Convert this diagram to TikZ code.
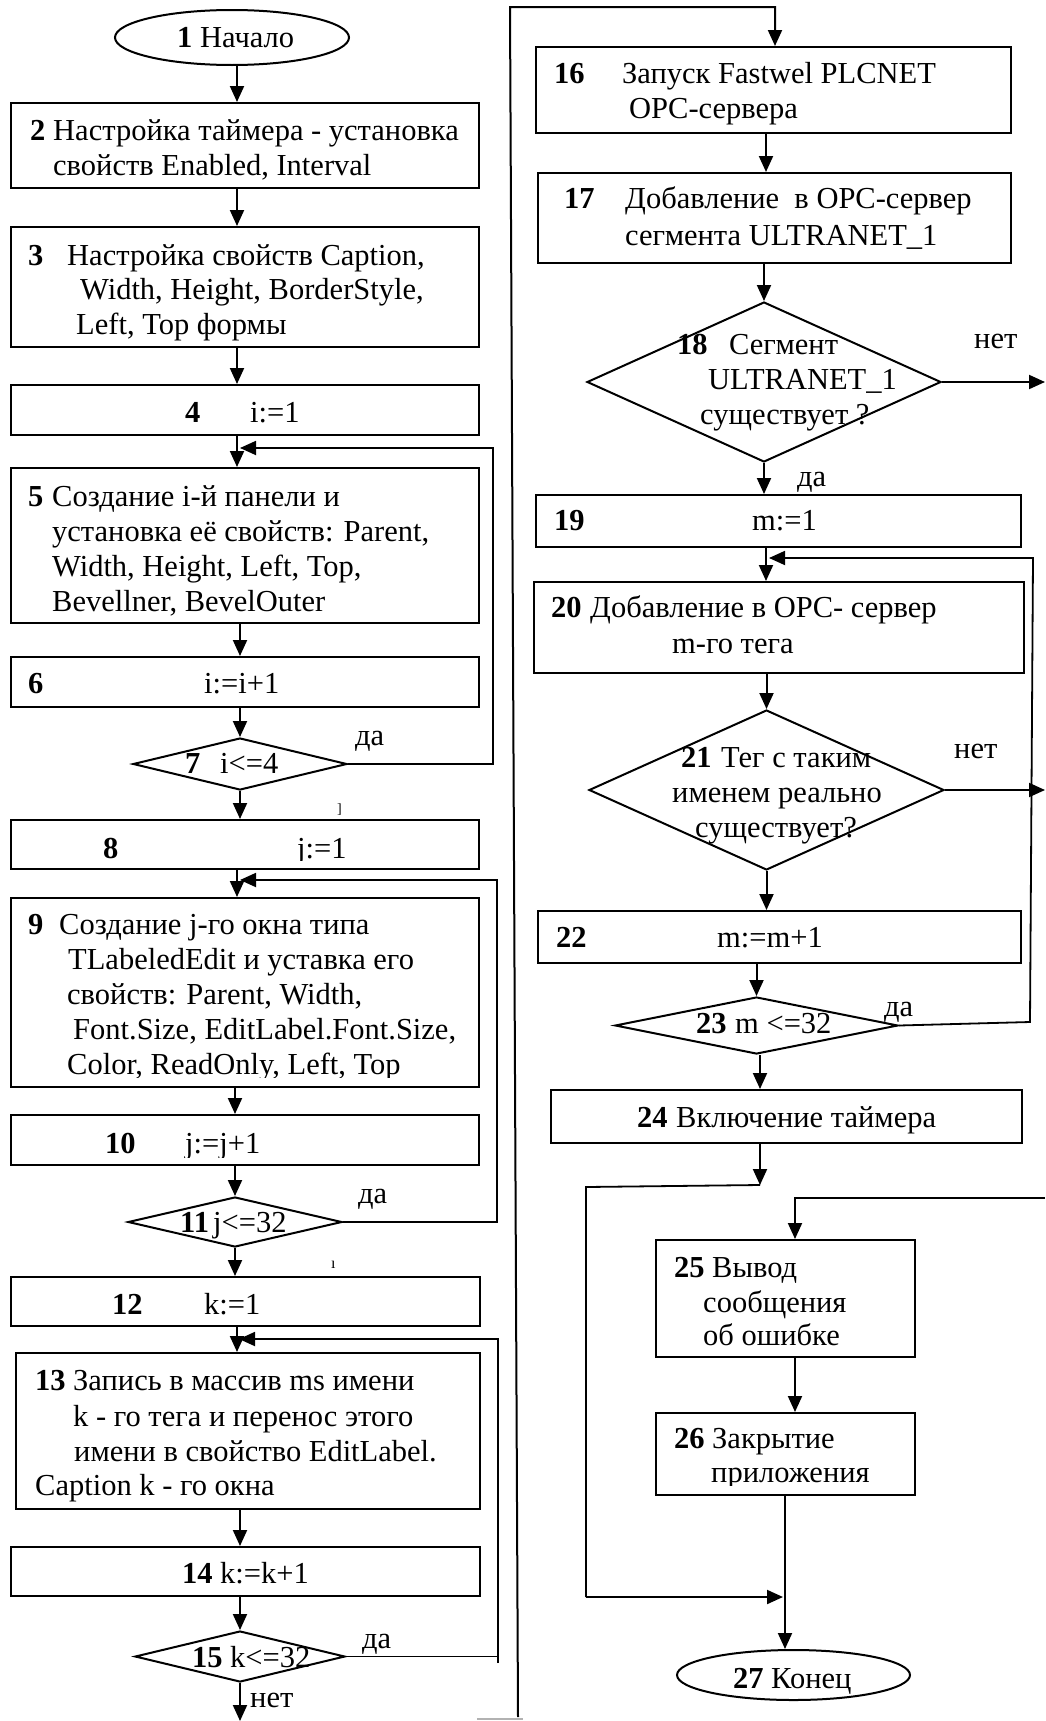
\documentclass[tikz,border=0pt]{standalone}
\usepackage{fontspec}
\setmainfont{Liberation Serif}
\usetikzlibrary{shapes.geometric,arrows.meta,fit}
\newcommand\fsz{\fontsize{30.5}{35}\selectfont}
\begin{document}
\begin{tikzpicture}[x=1pt,y=-1pt,
  box/.style={draw,line width=2pt,rectangle,inner sep=0pt},
  dia/.style={draw,line width=2pt,diamond,inner sep=0pt},
  term/.style={draw,line width=2pt,ellipse,inner sep=0pt},
  tx/.style={inner sep=0pt,anchor=base west,font=\fsz},
  nb/.style={inner sep=0pt,anchor=base west,font=\fsz\bfseries},
  arr/.style={line width=2pt,-{Triangle[length=16pt,width=14pt]}},
  lp/.style={line width=1.8pt,-{Triangle[length=16pt,width=14pt]}},
  ln/.style={line width=1.8pt},
]
\useasboundingbox (0,0) rectangle (1045,1721);
% ---------------- left column shapes ----------------
\node[term,minimum width=234pt,minimum height=55pt] (e1) at (232,37.5) {};
\node[box,fit={(11,103) (479,188)}] (b2) {};
\node[box,fit={(11,227) (479,347)}] (b3) {};
\node[box,fit={(11,385) (479,435)}] (b4) {};
\node[box,fit={(11,468) (479,623)}] (b5) {};
\node[box,fit={(11,657) (479,707)}] (b6) {};
\node[dia,minimum width=214pt,minimum height=52pt] (d7) at (240,764) {};
\node[box,fit={(11,820) (479,869)}] (b8) {};
\node[box,fit={(11,898) (479,1087)}] (b9) {};
\node[box,fit={(11,1115) (479,1165)}] (b10) {};
\node[dia,minimum width=214pt,minimum height=50pt] (d11) at (235,1222) {};
\node[box,fit={(11,1277) (480,1326)}] (b12) {};
\node[box,fit={(16,1353) (480,1509)}] (b13) {};
\node[box,fit={(11,1547) (480,1596)}] (b14) {};
\node[dia,minimum width=210pt,minimum height=51pt] (d15) at (240,1656.5) {};
% ---------------- right column shapes ----------------
\node[box,fit={(536,47) (1011,133)}] (b16) {};
\node[box,fit={(538,173) (1011,263)}] (b17) {};
\node[dia,minimum width=354pt,minimum height=160pt] (d18) at (764,382) {};
\node[box,fit={(536,495) (1021,547)}] (b19) {};
\node[box,fit={(534,582) (1024,673)}] (b20) {};
\node[dia,minimum width=355pt,minimum height=160pt] (d21) at (766.5,790) {};
\node[box,fit={(538,911) (1021,963)}] (b22) {};
\node[dia,minimum width=283pt,minimum height=57pt] (d23) at (756.5,1025.5) {};
\node[box,fit={(551,1090) (1022,1143)}] (b24) {};
\node[box,fit={(656,1240) (915,1357)}] (b25) {};
\node[box,fit={(656,1413) (915,1495)}] (b26) {};
\node[term,minimum width=233pt,minimum height=50pt] (e27) at (793.5,1675) {};
% ---------------- helper coordinates ----------------
\coordinate (Lx) at (237,0);
\coordinate (Rx) at (766,0);
\coordinate (R2) at (760,0);
\coordinate (rr) at (1045,0);
% ---------------- left connectors ----------------
\draw[arr] (e1.south -| Lx) -- (b2.north -| Lx);
\draw[arr] (b2.south -| Lx) -- (b3.north -| Lx);
\draw[arr] (b3.south -| Lx) -- (b4.north -| Lx);
\draw[arr] (b4.south -| Lx) -- (b5.north -| Lx);
\draw[arr] (b5.south -| d7.north) -- (b6.north -| d7.north);
\draw[arr] (b6.south -| d7.north) -- (d7.north);
\draw[arr] (d7.south) -- (d7.south |- b8.north);
\draw[arr] (b8.south -| Lx) -- (b9.north -| Lx);
\draw[arr] (b9.south -| d11.north) -- (b10.north -| d11.north);
\draw[arr] (b10.south -| d11.north) -- (d11.north);
\draw[arr] (d11.south) -- (d11.south |- b12.north);
\draw[arr] (b12.south -| Lx) -- (b13.north -| Lx);
\draw[arr] (b13.south -| d15.north) -- (b14.north -| d15.north);
\draw[arr] (b14.south -| d15.north) -- (d15.north);
\coordinate (end15) at (240,1721);
\draw[arr] (d15.south) -- (end15);
% loops
\coordinate (c7) at (493,448);
\coordinate (c7t) at (240,448);
\draw[lp] (d7.east) -| (c7) -- (c7t);
\coordinate (c11) at (497,880);
\coordinate (c11t) at (240,880);
\draw[lp] (d11.east) -| (c11) -- (c11t);
\coordinate (c15) at (498,1339);
\coordinate (c15c) at (498,1663);
\coordinate (c15t) at (239,1339);
\draw[ln] (d15.east) -- (d15.east -| c15);
\draw[lp] (c15c) -- (c15) -- (c15t);
% long transfer line
\coordinate (g1) at (518,1717);
\coordinate (g2) at (510,7);
\coordinate (g3) at (775,7);
\draw[arr] (g1) -- (g2) -- (g3) -- (g3 |- b16.north);
\coordinate (gb1) at (477,1719);
\coordinate (gb2) at (523,1719);
\draw[gray!60,line width=2pt] (gb1) -- (gb2);
% ---------------- right connectors ----------------
\draw[arr] (b16.south -| Rx) -- (b17.north -| Rx);
\draw[arr] (b17.south -| d18.north) -- (d18.north);
\draw[arr] (d18.south) -- (d18.south |- b19.north);
\draw[arr] (b19.south -| Rx) -- (b20.north -| Rx);
\draw[arr] (b20.south -| d21.north) -- (d21.north);
\draw[arr] (d21.south) -- (d21.south |- b22.north);
\draw[arr] (b22.south -| d23.north) -- (d23.north);
\draw[arr] (d23.south -| R2) -- (b24.north -| R2);
\draw[arr] (d18.east) -- (d18.east -| rr);
\draw[arr] (d21.east) -- (d21.east -| rr);
\coordinate (p1) at (1030,1022);
\coordinate (p2) at (1033,558);
\coordinate (p3) at (769,558);
\draw[lp] (d23.east) -- (p1) -- (p2) -- (p3);
\coordinate (j1) at (760,1185);
\coordinate (j2) at (586,1187);
\coordinate (j3) at (586,1597);
\coordinate (j4) at (783,1597);
\draw[arr] (b24.south -| R2) -- (j1);
\draw[ln] (j1) -- (j2) -- (j3);
\draw[arr] (j3) -- (j4);
\coordinate (k1) at (1045,1198);
\coordinate (k2) at (795,1198);
\draw[arr] (k1) -- (k2) -- (b25.north -| k2);
\draw[arr] (b25.south -| k2) -- (b26.north -| k2);
\coordinate (m1) at (785,0);
\draw[arr] (b26.south -| m1) -- (e27.north -| m1);
% ---------------- texts, left ----------------
\node[nb] (n1) at (177,47) {1};
\node[tx] (t1) at (200,47) {Начало};
\node[nb] (n2) at (30,140) {2};
\node[tx] (t2a) at (53,140) {Настройка таймера - установка};
\node[tx] (t2b) at (53,175) {свойств Enabled, Interval};
\node[nb] (n3) at (28,265) {3};
\node[tx] (t3a) at (67,265) {Настройка свойств Caption,};
\node[tx] (t3b) at (80,299) {Width, Height, BorderStyle,};
\node[tx] (t3c) at (76,334) {Left, Top формы};
\node[nb] (n4) at (185,422) {4};
\node[tx] (t4) at (250,422) {i:=1};
\node[nb] (n5) at (28,506) {5};
\node[tx] (t5a) at (52,506) {Создание i-й панели и};
\node[tx] (t5b) at (52,541) {установка её свойств: Parent,};
\node[tx] (t5c) at (52,576) {Width, Height, Left, Top,};
\node[tx] (t5d) at (52,611) {Bevellner, BevelOuter};
\node[nb] (n6) at (28,693) {6};
\node[tx] (t6) at (204,693) {i:=i+1};
\node[nb] (n7) at (185,773) {7};
\node[tx] (t7) at (220,773) {i<=4};
\node[tx] (y7) at (355,745) {да};
\node[inner sep=0pt,anchor=base west,font=\fontsize{14}{16}\selectfont] (s7) at (337,813) {]};
\node[nb] (n8) at (103,858) {8};
\begin{scope}
\clip (280,820) rectangle (400,860);
\node[tx] (t8) at (297,858) {j:=1};
\end{scope}
\node[nb] (n9) at (28,934) {9};
\node[tx] (t9a) at (59,934) {Создание j-го окна типа};
\node[tx] (t9b) at (68,969) {TLabeledEdit и уставка его};
\node[tx] (t9c) at (67,1004) {свойств: Parent, Width,};
\node[tx] (t9d) at (73,1039) {Font.Size, EditLabel.Font.Size,};
\begin{scope}
\clip (60,1045) rectangle (470,1077);
\node[tx] (t9e) at (67,1074) {Color, ReadOnly, Left, Top};
\end{scope}
\node[nb] (n10) at (105,1153) {10};
\begin{scope}
\clip (170,1118) rectangle (320,1157);
\node[tx] (t10) at (185,1153) {j:=j+1};
\end{scope}
\node[nb] (n11) at (180,1232) {11};
\node[tx] (t11) at (213,1232) {j<=32};
\node[tx] (y11) at (358,1203) {да};
\node[inner sep=0pt,anchor=base west,font=\fontsize{16}{18}\selectfont] (s11) at (331,1268) {ı};
\node[nb] (n12) at (112,1314) {12};
\node[tx] (t12) at (204,1314) {k:=1};
\node[nb] (n13) at (35,1390) {13};
\node[tx] (t13a) at (73,1390) {Запись в массив ms имени};
\node[tx] (t13b) at (73,1426) {k - го тега и перенос этого};
\node[tx] (t13c) at (74,1461) {имени в свойство EditLabel.};
\node[tx] (t13d) at (35,1495) {Caption k - го окна};
\node[nb] (n14) at (182,1583) {14};
\node[tx] (t14) at (220,1583) {k:=k+1};
\node[nb] (n15) at (192,1667) {15};
\node[tx] (t15) at (230,1667) {k<=32};
\node[tx] (y15) at (362,1648) {да};
\node[tx] (x15) at (250,1707) {нет};
% ---------------- texts, right ----------------
\node[nb] (n16) at (554,83) {16};
\node[tx] (t16a) at (622,83) {Запуск Fastwel PLCNET};
\node[tx] (t16b) at (629,118) {OPC-сервера};
\node[nb] (n17) at (564,208) {17};
\node[tx] (t17a) at (625,208) {Добавление\ \ в OPC-сервер};
\node[tx] (t17b) at (625,245) {сегмента ULTRANET\_1};
\node[nb] (n18) at (677,354) {18};
\node[tx] (t18a) at (729,354) {Сегмент};
\node[tx] (t18b) at (708,389) {ULTRANET\_1};
\node[tx] (t18c) at (700,424) {существует ?};
\node[tx] (x18) at (974,348) {нет};
\node[tx] (y18) at (797,486) {да};
\node[nb] (n19) at (554,530) {19};
\node[tx] (t19) at (752,530) {m:=1};
\node[nb] (n20) at (551,617) {20};
\node[tx] (t20a) at (590,617) {Добавление в OPC- сервер};
\node[tx] (t20b) at (672,653) {m-го тега};
\node[nb] (n21) at (681,767) {21};
\node[tx] (t21a) at (721,767) {Тег с таким};
\node[tx] (t21b) at (672,802) {именем реально};
\node[tx] (t21c) at (695,837) {существует?};
\node[tx] (x21) at (954,758) {нет};
\node[nb] (n22) at (556,947) {22};
\node[tx] (t22) at (717,947) {m:=m+1};
\node[nb] (n23) at (696,1033) {23};
\node[tx] (t23) at (735,1033) {m <=32};
\node[tx] (y23) at (884,1016) {да};
\node[nb] (n24) at (637,1127) {24};
\node[tx] (t24) at (676,1127) {Включение таймера};
\node[nb] (n25) at (674,1277) {25};
\node[tx] (t25a) at (712,1277) {Вывод};
\node[tx] (t25b) at (703,1312) {сообщения};
\node[tx] (t25c) at (703,1345) {об ошибке};
\node[nb] (n26) at (674,1448) {26};
\node[tx] (t26a) at (712,1448) {Закрытие};
\begin{scope}
\clip (690,1455) rectangle (910,1485);
\node[tx] (t26b) at (711,1482) {приложения};
\end{scope}
\node[nb] (n27) at (733,1688) {27};
\node[tx] (t27) at (771,1688) {Конец};
\end{tikzpicture}
\end{document}
